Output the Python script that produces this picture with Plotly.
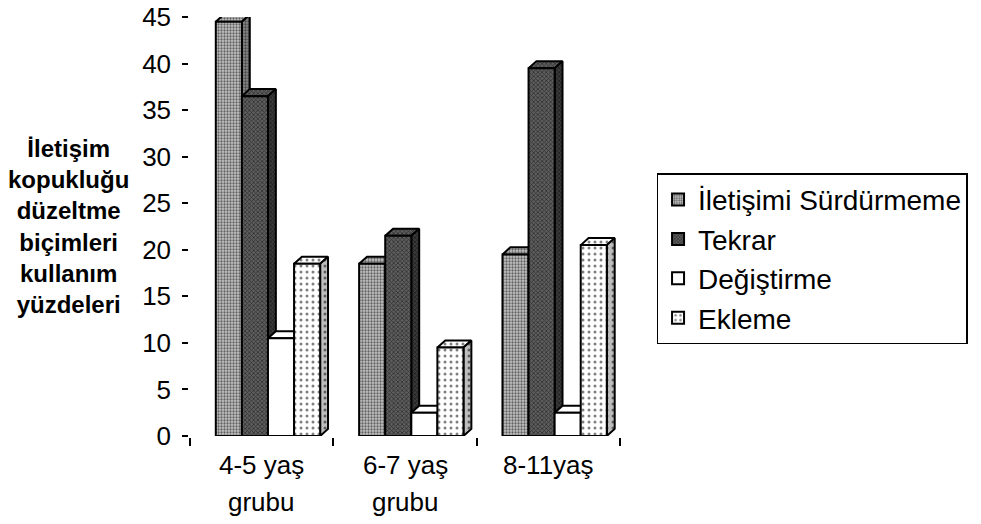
import plotly.graph_objects as go

# ---- data ----
categories = ["4-5 yaş<br>grubu", "6-7 yaş<br>grubu", "8-11yaş"]
series_names = ["İletişimi Sürdürmeme", "Tekrar", "Değiştirme", "Ekleme"]
iletisimi = [44.5, 18.5, 19.5]
tekrar = [36.5, 21.5, 39.5]
degistirme = [10.5, 2.5, 2.5]
ekleme = [18.5, 9.5, 20.5]
y_title_lines = ["İletişim", "kopukluğu", "düzeltme", "biçimleri", "kullanım", "yüzdeleri"]
y_ticks = [0, 5, 10, 15, 20, 25, 30, 35, 40, 45]

values = [iletisimi, tekrar, degistirme, ekleme]

# ---- styles ----
FONT = "Arial, Liberation Sans, sans-serif"
styles = [
    dict(bg="#c4c4c4", fg="#000000", shape=".", size=3, sol=0.45, side="#8a8a8a"),
    dict(bg="#5e5e5e", fg="#000000", shape="x", size=3, sol=0.45, side="#3a3a3a"),
    dict(bg="#ffffff", fg="#000000", shape="", size=4, sol=0.2, side="#ffffff"),
    dict(bg="#ffffff", fg="#000000", shape=".", size=6, sol=0.2, side="#bdbdbd"),
]
bar_w = 0.182
first_off = -0.32
dx, dy = 0.055, 0.76
xs = list(range(len(categories)))
LW = 2

fig = go.Figure()

# 3D depth faces (drawn beneath the front faces)
for i, (vals, st) in enumerate(zip(values, styles)):
    off = first_off + i * bar_w
    top_x, top_y, side_x, side_y = [], [], [], []
    for c, v in zip(xs, vals):
        x0 = c + off
        x1 = x0 + bar_w
        top_x += [x0, x1, x1 + dx, x0 + dx, x0, None]
        top_y += [v, v, v + dy, v + dy, v, None]
        side_x += [x1, x1 + dx, x1 + dx, x1, x1, None]
        side_y += [0, dy, v + dy, v, 0, None]
    for fx, fy, bg in ((top_x, top_y, st["bg"]), (side_x, side_y, st["side"])):
        fig.add_trace(go.Scatter(
            x=fx, y=fy, mode="lines", fill="toself", fillcolor=bg,
            fillpattern=dict(shape=st["shape"], bgcolor=bg, fgcolor=st["fg"],
                             size=st["size"], solidity=st["sol"], fillmode="overlay"),
            line=dict(color="black", width=LW), showlegend=False,
            hoverinfo="skip", zorder=0))

# front faces
for i, (name, vals, st) in enumerate(zip(series_names, values, styles)):
    fig.add_trace(go.Bar(
        x=xs, y=vals, name=name, width=bar_w, offset=first_off + i * bar_w,
        marker=dict(color=st["bg"], line=dict(color="black", width=LW),
                    pattern=dict(shape=st["shape"], bgcolor=st["bg"], fgcolor=st["fg"],
                                 size=st["size"], solidity=st["sol"], fillmode="overlay")),
        zorder=1))

annotations = []
# category labels
for c, lab in zip(xs, categories):
    for j, line in enumerate(lab.split("<br>")):
        annotations.append(dict(
            x=c, xref="x", y=[-0.0692, -0.1575][j], yref="paper",
            text=line, showarrow=False, xanchor="center", yanchor="middle",
            font=dict(family=FONT, size=26, color="black")))
# y title
annotations.append(dict(
    x=-0.2824, xref="paper", y=0.499, yref="paper",
    text="<br>".join(y_title_lines), showarrow=False, align="center",
    xanchor="center", yanchor="middle",
    font=dict(family=FONT, size=24, color="black", weight="bold")))

fig.update_layout(
    width=981, height=524,
    margin=dict(l=190, r=361, t=17, b=88, autoexpand=False),
    paper_bgcolor="white", plot_bgcolor="white",
    barmode="overlay",
    font=dict(family=FONT, color="black"),
    xaxis=dict(range=[-0.5, 2.5], showgrid=False, zeroline=False, showline=True,
               linecolor="black", linewidth=1.5, showticklabels=False, ticks="",
               tickvals=xs,
               minor=dict(tickvals=[-0.5, 0.5, 1.5, 2.5], ticks="outside",
                          ticklen=8, tickcolor="black", tickwidth=1.5)),
    yaxis=dict(range=[0, 45], tickvals=y_ticks, showgrid=False, zeroline=False,
               showline=True, linecolor="black", linewidth=1.5,
               ticks="outside", ticklen=6, tickwidth=1.5, tickcolor="black",
               ticklabelstandoff=6,
               tickfont=dict(family=FONT, size=26, color="black")),
    legend=dict(x=1.085, xanchor="left", y=0.627, yanchor="top",
                bordercolor="black", borderwidth=1.5, bgcolor="white",
                font=dict(family=FONT, size=28, color="black"),
                traceorder="normal"),
    annotations=annotations,
    showlegend=True,
)

fig.write_html("out.html", config={"displayModeBar": False},
               post_script="document.body.style.margin='0';document.body.style.overflow='hidden';")
